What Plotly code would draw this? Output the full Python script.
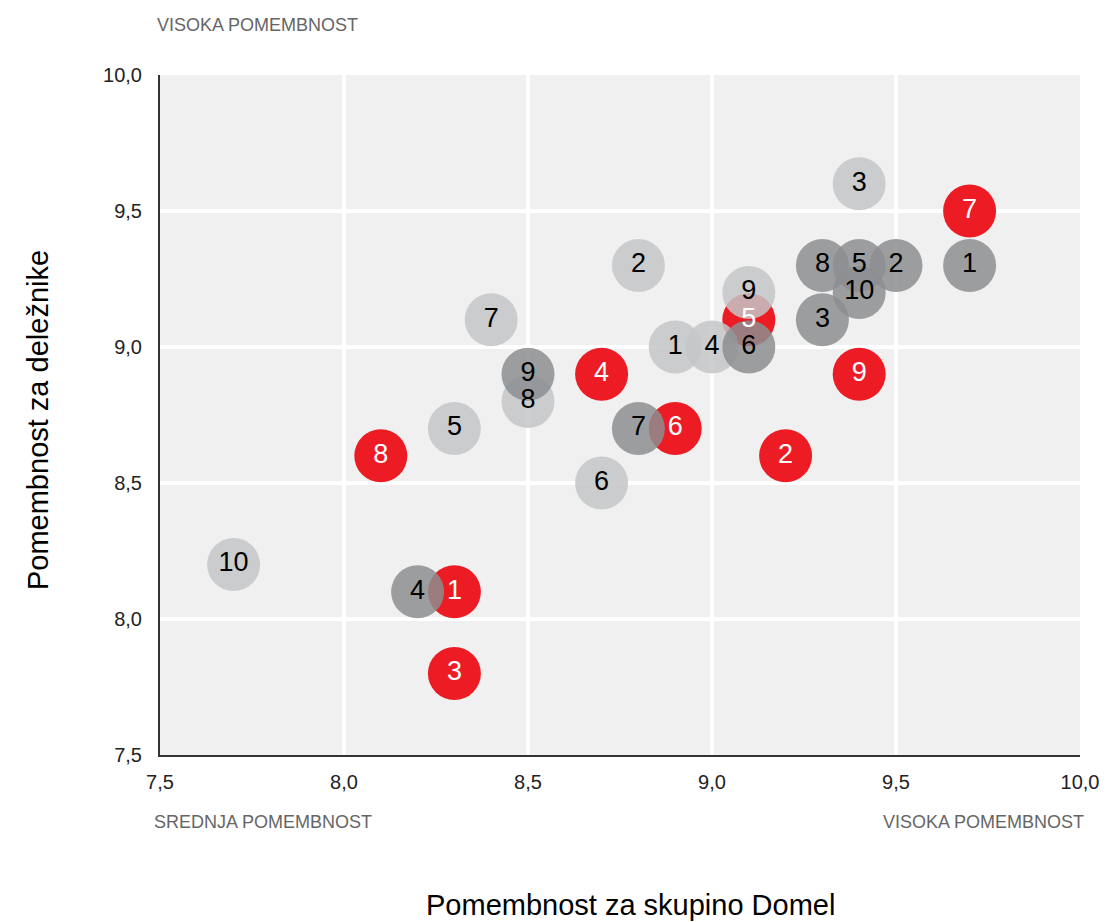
import plotly.graph_objects as go

# light grey group
light_x = [8.9, 8.8, 9.4, 9.0, 8.3, 8.7, 8.4, 8.5, 9.1, 7.7]
light_y = [9.0, 9.3, 9.6, 9.0, 8.7, 8.5, 9.1, 8.8, 9.2, 8.2]
light_lbl = ["1", "2", "3", "4", "5", "6", "7", "8", "9", "10"]

# dark grey group
dark_x = [9.7, 9.5, 9.3, 8.2, 9.4, 9.1, 8.8, 9.3, 8.5, 9.4]
dark_y = [9.3, 9.3, 9.1, 8.1, 9.3, 9.0, 8.7, 9.3, 8.9, 9.2]
dark_lbl = ["1", "2", "3", "4", "5", "6", "7", "8", "9", "10"]

# red group
red_x = [8.3, 9.2, 8.3, 8.7, 9.1, 8.9, 9.7, 8.1, 9.4]
red_y = [8.1, 8.6, 7.8, 8.9, 9.1, 8.7, 9.5, 8.6, 8.9]
red_lbl = ["1", "2", "3", "4", "5", "6", "7", "8", "9"]

ticks = [7.5, 8.0, 8.5, 9.0, 9.5, 10.0]

FONT = "Liberation Sans, Arial, sans-serif"
MSIZE = 53

fig = go.Figure()

# markers: red below, greys on top (translucent)
fig.add_trace(go.Scatter(x=red_x, y=red_y, mode="markers",
                         marker=dict(size=MSIZE, color="#ed1c24", line=dict(width=0)),
                         hoverinfo="skip", showlegend=False))
fig.add_trace(go.Scatter(x=light_x, y=light_y, mode="markers",
                         marker=dict(size=MSIZE, color="#c4c5c7", opacity=0.85, line=dict(width=0)),
                         hoverinfo="skip", showlegend=False))
fig.add_trace(go.Scatter(x=dark_x, y=dark_y, mode="markers",
                         marker=dict(size=MSIZE, color="#8c8e90", opacity=0.85, line=dict(width=0)),
                         hoverinfo="skip", showlegend=False))

# number labels on top
for xs, ys, lbl, col in [(light_x, light_y, light_lbl, "black"),
                         (dark_x, dark_y, dark_lbl, "black"),
                         (red_x, red_y, red_lbl, "white")]:
    fig.add_trace(go.Scatter(x=xs, y=ys, mode="text", text=lbl,
                             textposition="middle center",
                             textfont=dict(family=FONT, size=27, color=col),
                             hoverinfo="skip", showlegend=False))

axis_common = dict(
    range=[7.5, 10.0],
    tickvals=ticks,
    tickformat=".1f",
    showgrid=True,
    gridcolor="white",
    gridwidth=4,
    zeroline=False,
    showline=True,
    linecolor="#333333",
    linewidth=2,
    ticks="",
    automargin=False,
    tickfont=dict(family=FONT, size=20, color="#222222"),
)

fig.update_xaxes(**axis_common, ticklabelstandoff=8)
fig.update_yaxes(**axis_common, ticklabelstandoff=12)

ann_font = dict(family=FONT, size=18, color="#666666")
fig.update_layout(
    width=1106, height=922,
    margin=dict(l=160, r=26, t=75, b=167),
    plot_bgcolor="#f0f0f0",
    paper_bgcolor="white",
    separators=", ",
    annotations=[
        dict(text="VISOKA POMEMBNOST", xref="paper", yref="paper",
             x=-0.0054, y=1.0735, xanchor="left", yanchor="middle",
             showarrow=False, font=ann_font),
        dict(text="SREDNJA POMEMBNOST", xref="paper", yref="paper",
             x=-0.0087, y=-0.0985, xanchor="left", yanchor="middle",
             showarrow=False, font=ann_font),
        dict(text="VISOKA POMEMBNOST", xref="paper", yref="paper",
             x=1.0065, y=-0.0985, xanchor="right", yanchor="middle",
             showarrow=False, font=ann_font),
        dict(text="Pomembnost za skupino Domel", xref="paper", yref="paper",
             x=0.511, y=-0.2206, xanchor="center", yanchor="middle",
             showarrow=False, font=dict(family=FONT, size=29, color="black")),
        dict(text="Pomembnost za deležnike", xref="paper", yref="paper",
             x=-0.1326, y=0.4926, xanchor="center", yanchor="middle",
             textangle=-90, showarrow=False,
             font=dict(family=FONT, size=29, color="black")),
    ],
)

# drop the default page margin so the figure sits at the window's corner
fig.write_html("out.html", config={"displayModeBar": False},
               post_script="document.body.style.margin='0';document.body.style.overflow='hidden';")
